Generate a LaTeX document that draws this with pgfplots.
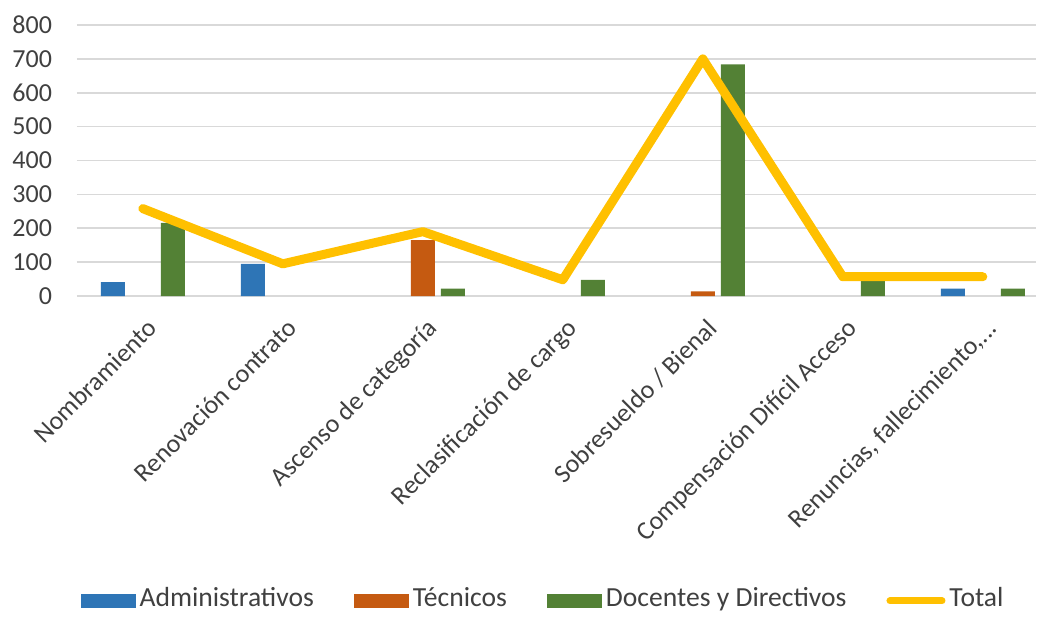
\documentclass[border=0pt]{standalone}
\usepackage{pgfplots}
\pgfplotsset{compat=1.18}
\usepackage{fontspec}
\setmainfont{Carlito}
\definecolor{cadm}{HTML}{2E75B6}
\definecolor{ctec}{HTML}{C55A11}
\definecolor{cdoc}{HTML}{538135}
\definecolor{ctot}{HTML}{FFC000}
\definecolor{cgrid}{HTML}{D9D9D9}
\definecolor{ctxt}{HTML}{404040}
\newcommand{\renlabel}{Renuncias, fallecimiento,.\kern0pt.\kern0pt.}
\begin{document}
\begin{tikzpicture}
\begin{axis}[
  name=ax,
  scale only axis,
  width=479.5pt, height=135.5pt,
  xmin=-0.47, xmax=6.38,
  ymin=0, ymax=800,
  ytick={0,100,200,300,400,500,600,700,800},
  xtick={0,1,2,3,4,5,6},
  xticklabels={Nombramiento,Renovación contrato,Ascenso de categoría,Reclasificación de cargo,Sobresueldo / Bienal,Compensación Difícil Acceso,\renlabel},
  xticklabel style={rotate=45, anchor=north east, yshift=-5pt, xshift=-3pt, font=\fontsize{13}{15}\selectfont, text=ctxt},
  yticklabel style={xshift=-9pt, font=\fontsize{13}{15}\selectfont, text=ctxt},
  /pgf/number format/assume math mode=true,
  major tick length=0pt,
  axis x line*=bottom,
  axis y line*=left,
  y axis line style={draw=none},
  x axis line style={draw=cgrid, line width=0.8pt, -},
  ymajorgrids,
  grid style={draw=cgrid, line width=0.8pt},
  ybar=3pt,
  bar width=12pt,
  legend columns=4,
  legend style={draw=none, at={(0.487,-1.125)}, anchor=center, font=\fontsize{13.8}{15}\selectfont, text=ctxt,
    nodes={text height=1.6ex, text depth=0.4ex},
    /tikz/every even column/.append style={column sep=18pt}},
  clip=false,
]
\addplot[fill=cadm, draw=none, legend image code/.code={\fill[cadm] (0pt,-3.5pt) rectangle (27.5pt,3.5pt);}]
  coordinates {(0,41) (1,95) (6,22)};
\addlegendentry{Administrativos}
\addplot[fill=ctec, draw=none, legend image code/.code={\fill[ctec] (0pt,-3.5pt) rectangle (27.5pt,3.5pt);}]
  coordinates {(2,165) (4,14)};
\addlegendentry{Técnicos}
\addplot[fill=cdoc, draw=none, legend image code/.code={\fill[cdoc] (0pt,-3.5pt) rectangle (27.5pt,3.5pt);}]
  coordinates {(0,216) (2,22) (3,48) (4,684) (5,57) (6,22)};
\addlegendentry{Docentes y Directivos}
\addplot[sharp plot, draw=ctot, line width=4.5pt, line join=round, line cap=round, mark=none,
  legend image code/.code={\draw[ctot, line width=3.5pt, line cap=round] (1.5pt,0pt) -- (27.5pt,0pt);}]
  coordinates {(0,258) (1,95) (2,190) (3,48) (4,700) (5,57) (6,57)};
\addlegendentry{Total}
\end{axis}
\path ([xshift=-38.5pt,yshift=-158pt]ax.south west) rectangle ([xshift=480.5pt,yshift=148pt]ax.south west);
\end{tikzpicture}
\end{document}
